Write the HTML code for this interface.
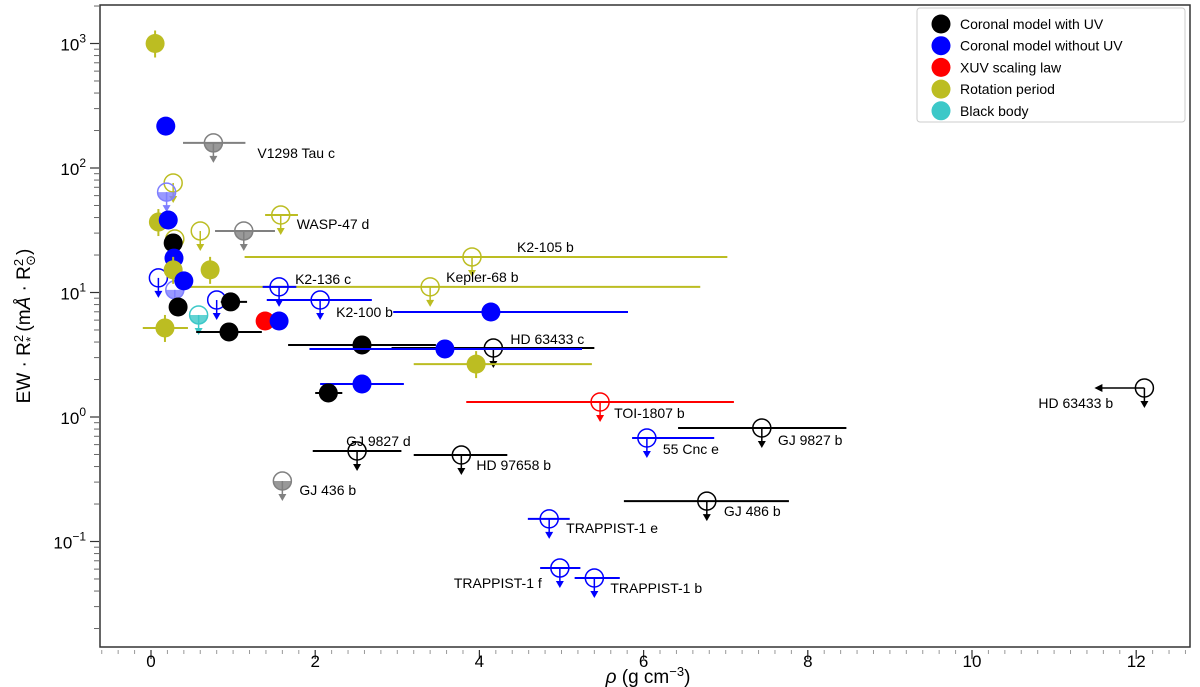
<!DOCTYPE html>
<html><head><meta charset="utf-8"><style>
body{margin:0;background:#fff;}
svg{display:block;font-family:"Liberation Sans","DejaVu Sans",sans-serif;}
</style></head><body>
<svg id="c" width="1200" height="687" viewBox="0 0 1200 687" xmlns="http://www.w3.org/2000/svg"></svg>
<script>
// ---- data ----
const filledX = [0.05,0.18,0.09,0.21,0.27,0.28,0.27,0.40,0.33,0.97,0.72,0.17,0.95,1.39,1.56,2.57,3.58,3.96,4.14,2.57,2.16];
const filledY = [1000,217,36.8,38.2,25,18.9,15.2,12.4,7.65,8.4,15.2,5.19,4.82,5.9,5.9,3.79,3.52,2.66,6.97,1.84,1.56];
const filledXlo = [null,null,null,null,null,null,null,null,null,0.85,null,-0.1,0.55,null,null,1.67,1.93,3.2,2.95,2.06,2.0];
const filledXhi = [null,null,null,null,null,null,null,null,null,1.17,null,0.45,1.35,null,null,3.47,5.25,5.37,5.81,3.08,2.33];
const filledCat = ['rot','nouv','rot','nouv','uv','nouv','rot','nouv','uv','uv','rot','rot','uv','xuv','nouv','uv','nouv','rot','nouv','nouv','uv'];

const limName = ['V1298 Tau c','','','','','WASP-47 d','','K2-105 b','Kepler-68 b','K2-136 c','','','','K2-100 b','','HD 63433 c','TOI-1807 b','HD 63433 b','GJ 9827 b','55 Cnc e','GJ 9827 d','HD 97658 b','GJ 436 b','GJ 486 b','TRAPPIST-1 e','TRAPPIST-1 f','TRAPPIST-1 b'];
const limX = [0.76,0.27,0.19,0.6,1.13,1.58,0.29,3.91,3.40,1.56,0.09,0.29,0.8,2.06,0.58,4.17,5.47,12.1,7.44,6.04,2.51,3.78,1.6,6.77,4.85,4.98,5.4];
const limY = [159,75.8,64,31.2,31.2,41.9,26.9,19.3,11.1,11.1,13.1,10.5,8.7,8.7,6.6,3.58,1.32,1.71,0.816,0.678,0.533,0.495,0.306,0.211,0.152,0.0612,0.0509];
const limXlo = [0.39,null,null,null,0.78,1.39,null,1.14,0.42,1.36,null,null,null,1.41,null,2.93,3.84,null,6.42,5.86,1.97,3.2,null,5.76,4.59,4.74,5.16];
const limXhi = [1.15,null,null,null,1.51,1.79,null,7.02,6.69,1.77,null,null,null,2.69,null,5.4,7.1,null,8.47,6.86,3.05,4.34,null,7.77,5.10,5.23,5.71];
const limCat = ['gray','rot','ltblue','rot','gray','rot','rot','rot','rot','nouv','nouv','ltblue','nouv','nouv','bb','uv','xuv','uv','uv','nouv','uv','uv','gray','uv','nouv','nouv','nouv'];
const legendLabels = ['Coronal model with UV','Coronal model without UV','XUV scaling law','Rotation period','Black body'];
const legendCats = ['uv','nouv','xuv','rot','bb'];
const xTicks = [0,2,4,6,8,10,12];
const yTickExp = [3,2,1,0,-1];

// ---- styling (not data) ----
const col = {uv:'#000000',nouv:'#0000ff',xuv:'#ff0000',rot:'#bcbd22',bb:'#3cc8c8',gray:'#808080',ltblue:'#7f7fff'};
const labelOff = {'V1298 Tau c':[44,10],'WASP-47 d':[16,9],'K2-105 b':[45,-10],'Kepler-68 b':[16,-10],'K2-136 c':[16,-8],'K2-100 b':[16,12],'HD 63433 c':[17,-9],'TOI-1807 b':[14,11],'HD 63433 b':[-106,15],'GJ 9827 b':[16,12],'55 Cnc e':[16,11],'GJ 9827 d':[-11,-10],'HD 97658 b':[15,10],'GJ 436 b':[17,9],'GJ 486 b':[17,10],'TRAPPIST-1 e':[17,9],'TRAPPIST-1 f':[-106,15],'TRAPPIST-1 b':[16,10]};

const L=100,R=1190,T=5,B=647;
const sx = v => 151 + v*82.1;
const sy = v => 417 - Math.log10(v)*124.5;
const NS='http://www.w3.org/2000/svg';
const svg=document.getElementById('c');
function mk(tag,at,parent){const e=document.createElementNS(NS,tag);for(const k in at)e.setAttribute(k,at[k]);(parent||svg).appendChild(e);return e;}

const frame=mk('rect',{x:L,y:T,width:R-L,height:B-T,fill:'none',stroke:'#333','stroke-width':1.5});



const gx=mk('g',{});


for(let m=-0.6;m<=12.9;m+=0.2){const px=sx(m);if(px<L||px>R)continue;mk('line',{x1:px,x2:px,y1:B+3,y2:B+7,stroke:'#999','stroke-width':1},gx);}
xTicks.forEach(t=>{const px=sx(t);mk('line',{x1:px,x2:px,y1:B+3,y2:B+12,stroke:'#333','stroke-width':1.2},gx);
 const tx=mk('text',{x:px,y:B+20,'text-anchor':'middle','font-size':17,fill:'#000'},gx);tx.textContent=t;
 
 });
const xt=mk('text',{x:648,y:683,'text-anchor':'middle','font-size':19,fill:'#000'});
xt.innerHTML='<tspan font-style="italic">ρ</tspan> (g cm<tspan dy="-7" font-size="13">−3</tspan><tspan dy="7">)</tspan>';



const gy=mk('g',{});


for(let e=-2;e<=3;e++){for(let k=2;k<=9;k++){const py=sy(k*Math.pow(10,e));if(py<T||py>B)continue;mk('line',{x1:L-6,x2:L-1,y1:py,y2:py,stroke:'#666','stroke-width':1},gy);}}
yTickExp.forEach(e=>{const py=sy(Math.pow(10,e));mk('line',{x1:L-10,x2:L-1,y1:py,y2:py,stroke:'#333','stroke-width':1.2},gy);
 const tx=mk('text',{x:L-14,y:py+7,'text-anchor':'end','font-size':17,fill:'#000'},gy);
 tx.innerHTML='10<tspan dy="-8" font-size="12">'+(e<0?'−'+(-e):e)+'</tspan>';
 
 });
const yt=mk('text',{transform:'translate(30,326) rotate(-90)','text-anchor':'middle','font-size':19,fill:'#000'});
yt.innerHTML='EW · R<tspan dy="-7" font-size="13">2</tspan><tspan dy="12" dx="-7" font-size="13">*</tspan><tspan dy="-5"> (m</tspan><tspan font-style="italic">Å</tspan> · R<tspan dy="-7" font-size="13">2</tspan><tspan dy="12" dx="-7" font-size="13">⊙</tspan><tspan dy="-5">)</tspan>';



limX.forEach((x,i)=>{
 const c=col[limCat[i]];const px=sx(x),py=sy(limY[i]);
 const g=mk('g',{});
 
 
 if(limXlo[i]!==null){mk('line',{x1:sx(limXlo[i]),x2:sx(limXhi[i]),y1:py,y2:py,stroke:c,'stroke-width':2},g);}
 if(limCat[i]==='gray'||limCat[i]==='ltblue'||limCat[i]==='bb'){
   mk('path',{d:`M${px-9},${py} A9,9 0 0 0 ${px+9},${py} Z`,fill:c,opacity:0.8},g);
 }
 mk('circle',{cx:px,cy:py,r:9,fill:'none',stroke:c,'stroke-width':1.5},g);
 mk('line',{x1:px,x2:px,y1:py,y2:py+15,stroke:c,'stroke-width':1.5},g);
 mk('path',{d:`M${px-4},${py+13} L${px+4},${py+13} L${px},${py+20} Z`,fill:c},g);
 if(limName[i]==='HD 63433 b'){
   mk('line',{x1:px,x2:px-44,y1:py,y2:py,stroke:c,'stroke-width':1.5},g);
   mk('path',{d:`M${px-42},${py-4} L${px-42},${py+4} L${px-50},${py} Z`,fill:c},g);
 }
 if(limName[i]){const o=labelOff[limName[i]];const t=mk('text',{x:px+o[0],y:py+o[1]+5,'font-size':14,fill:'#000'},g);t.textContent=limName[i];
  
  }
});

filledX.forEach((x,i)=>{
 const c=col[filledCat[i]];const px=sx(x),py=sy(filledY[i]);
 const g=mk('g',{});
 
 
 if(filledXlo[i]!==null){mk('line',{x1:sx(filledXlo[i]),x2:sx(filledXhi[i]),y1:py,y2:py,stroke:c,'stroke-width':2},g);}
 if(filledCat[i]==='rot'){mk('line',{x1:px,x2:px,y1:py-13,y2:py+14,stroke:c,'stroke-width':2},g);}
 mk('circle',{cx:px,cy:py,r:9.5,fill:c},g);
});

const lg=mk('g',{});


mk('rect',{x:917,y:8,width:268,height:114,rx:3,fill:'#fff',stroke:'#ccc'},lg);
legendLabels.forEach((lab,i)=>{const y=24+i*21.7;
 const e=mk('g',{},lg);
 
 
 mk('circle',{cx:941,cy:y,r:9.5,fill:col[legendCats[i]]},e);
 const t=mk('text',{x:960,y:y+5,'font-size':14,fill:'#000'},e);t.textContent=lab;});
</script>
</body></html>
